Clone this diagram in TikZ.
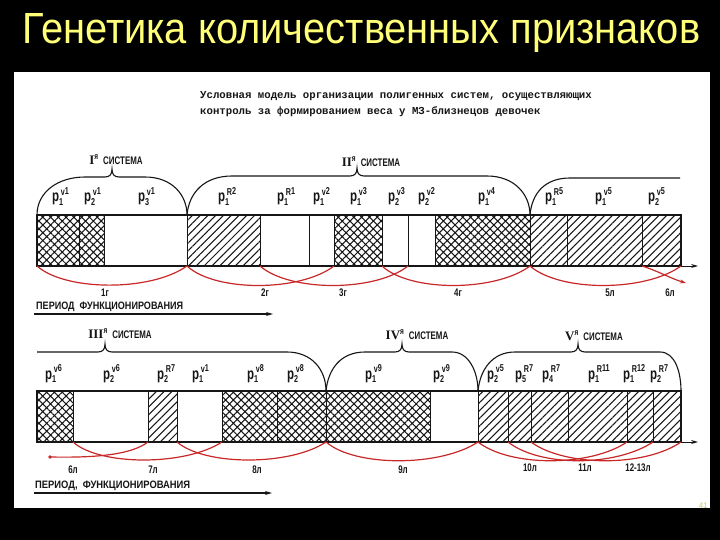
\documentclass[tikz,border=0pt]{standalone}
\usepackage{fontspec}
\setmainfont{Liberation Sans}
\newfontfamily\monof{Liberation Mono}
\newfontfamily\serf{Liberation Serif}
\newfontfamily\cond[FakeStretch=0.72]{Liberation Sans}
\usetikzlibrary{patterns.meta,arrows.meta}
\definecolor{ink}{RGB}{22,22,22}
\definecolor{redink}{RGB}{200,40,40}
\definecolor{ttl}{RGB}{255,255,120}
\newcommand\gn[3]{{\cond\bfseries\fontsize{16}{16}\selectfont p\makebox[0pt][l]{\raisebox{-3.5pt}{\fontsize{10}{10}\selectfont#1}}\raisebox{6.5pt}{\fontsize{10}{10}\selectfont\,#2\raisebox{1pt}{#3}}}}
\newcommand\sysl[1]{{\serf\bfseries\fontsize{13}{13}\selectfont #1}\raisebox{5pt}{\cond\bfseries\fontsize{9}{9}\selectfont я}\hspace{5pt}{\cond\bfseries\fontsize{11}{11}\selectfont СИСТЕМА}}
\tikzset{
 band/.style={draw=ink,line width=1.8pt},
 div/.style={draw=ink,line width=1pt},
 cross/.style={pattern={Hatch[angle=45,distance=5.5pt,line width=1.05pt]},pattern color=ink},
 diag/.style={pattern={Lines[angle=45,distance=5.5pt,line width=1.05pt]},pattern color=ink},
 blank/.style={},
 dome/.style={draw=ink,line width=1.1pt},
 rarc/.style={draw=redink,line width=1.2pt},
 gl/.style={anchor=base west,inner sep=0pt,text=ink},
 sysn/.style={inner sep=0pt,text=ink},
 yr/.style={inner sep=0pt,text=ink,font=\cond\bfseries\fontsize{11}{11}\selectfont},
 hdr/.style={anchor=base west,inner sep=0pt,text=ink,font=\monof\bfseries\fontsize{10.7}{10.7}\selectfont},
}
\begin{document}
\begin{tikzpicture}[x=1pt,y=-1pt]
\fill[black] (0,0) rectangle (720,540);
\useasboundingbox (0,0) rectangle (720,540);
\node[anchor=base west,inner sep=0pt,text=ttl] (title) at (22,44)
  {\resizebox{678pt}{30pt}{\fontsize{42}{42}\selectfont Генетика количественных признаков}};
\fill[white] (14,72) rectangle (710,508);
\node[anchor=base east,inner sep=0pt,text=ttl!80!black,font=\fontsize{8}{8}\selectfont] (pg) at (708,508) {41};
% header
\node[hdr] (h1) at (200,99) {Условная модель организации полигенных систем, осуществляющих};
\node[hdr] (h2) at (200,115) {контроль за формированием веса у МЗ-близнецов девочек};
% ---------- top row ----------
\foreach \a/\b/\s in {37/79/cross,79/104/cross,104/187/blank,187/260/diag,260/309/blank,309/334/blank,334/382/cross,382/408/blank,408/435/blank,435/530/cross,530/567/diag,567/642/diag,642/681/diag}
  \path[\s] (\a,215) rectangle (\b,266);
\foreach \x in {79,104,187,260,309,334,382,408,435,530,567,642}
  \draw[div] (\x,215) -- (\x,266);
\draw[band] (37,215) rectangle (681,266);
\foreach \n/\x in {0/37,1/79,2/104,3/187,4/260,5/309,6/334,7/382,8/408,9/435,10/530,11/567,12/642,13/681}
  \coordinate (T\n) at (\x,266);
\coordinate (Tend) at (698,266);
\draw[ink,line width=1pt,-{Stealth[length=7pt,width=4pt]}] (T13) -- (Tend);
% domes top
\draw[dome] (37,215) .. controls (37,192) and (58,177) .. (85,177) -- (105,177)
  .. controls (110,177) and (112,174) .. (112,169) .. controls (112,174) and (114,177) .. (119,177)
  -- (145,177) .. controls (172,177) and (187,195) .. (187,215);
\draw[dome] (187,215) .. controls (189,192) and (205,176) .. (232,176) -- (350,176)
  .. controls (355,176) and (357,173) .. (357,168) .. controls (357,173) and (359,176) .. (364,176)
  -- (487,176) .. controls (515,176) and (530,195) .. (530,215);
\draw[dome] (530,215) .. controls (532,193) and (545,178) .. (570,178) -- (680,178);
\node[sysn] (s1) at (116,160) {\sysl{I}};
\node[sysn] (s2) at (371,162) {\sysl{II}};
% gene labels top
\node[gl] (a1) at (52,202) {\gn{1}{v}{1}};
\node[gl] (a2) at (84,202) {\gn{2}{v}{1}};
\node[gl] (a3) at (138,202) {\gn{3}{v}{1}};
\node[gl] (a4) at (218,202) {\gn{1}{R}{2}};
\node[gl] (a5) at (277,202) {\gn{1}{R}{1}};
\node[gl] (a6) at (313,202) {\gn{1}{v}{2}};
\node[gl] (a7) at (350,202) {\gn{1}{v}{3}};
\node[gl] (a8) at (388,202) {\gn{2}{v}{3}};
\node[gl] (a9) at (418,202) {\gn{2}{v}{2}};
\node[gl] (a10) at (478,202) {\gn{1}{v}{4}};
\node[gl] (a11) at (545,202) {\gn{1}{R}{5}};
\node[gl] (a12) at (595,202) {\gn{1}{v}{5}};
\node[gl] (a13) at (648,202) {\gn{2}{v}{5}};
% red arcs top
\draw[rarc] (T0) .. controls (65,291) and (150,292) .. (T3);
\draw[rarc] (T3) .. controls (215,292) and (300,292) .. (T6);
\draw[rarc] (T4) .. controls (290,292) and (375,292) .. (T8);
\draw[rarc] (T7) .. controls (410,292) and (495,292) .. (T10);
\draw[rarc] (T10) .. controls (560,292) and (645,292) .. (T13);
\coordinate (T14) at (686,283);
\draw[rarc,-{Stealth[length=6pt,width=4pt]}] (T12) .. controls (658,271) and (672,279) .. (T14);
\node[yr] (y1) at (105,293) {1г};
\node[yr] (y2) at (265,293) {2г};
\node[yr] (y3) at (343,293) {3г};
\node[yr] (y4) at (458,293) {4г};
\node[yr] (y5) at (610,293) {5л};
\node[yr] (y6) at (670,293) {6л};
% period 1
\node[anchor=base west,inner sep=0pt,text=ink] (p1) at (36,309)
  {\resizebox{147pt}{7.5pt}{\bfseries\fontsize{10}{10}\selectfont ПЕРИОД\ \ ФУНКЦИОНИРОВАНИЯ}};
\coordinate (pa1) at (34,314);
\coordinate (pb1) at (273,314);
\draw[ink,line width=1.2pt,-{Stealth[length=7pt,width=4pt]}] (pa1) -- (pb1);
% ---------- bottom row ----------
\foreach \a/\b/\s in {37/73/cross,73/148/blank,148/177/diag,177/222/blank,222/277/cross,277/326/cross,326/430/cross,430/478/blank,478/508/diag,508/531/diag,531/568/diag,568/627/diag,627/653/diag,653/681/diag}
  \path[\s] (\a,391) rectangle (\b,442);
\foreach \x in {73,148,177,222,277,326,430,478,508,531,568,627,653}
  \draw[div] (\x,391) -- (\x,442);
\draw[band] (37,391) rectangle (681,442);
\foreach \n/\x in {0/37,1/73,2/148,3/177,4/222,5/277,6/326,7/430,8/478,9/508,10/531,11/568,12/627,13/653,14/681}
  \coordinate (B\n) at (\x,442);
\coordinate (Bend) at (698,442);
\draw[ink,line width=1pt,-{Stealth[length=7pt,width=4pt]}] (B14) -- (Bend);
% domes bottom
\draw[dome] (37,352) -- (98,352)
  .. controls (103,352) and (105,349) .. (105,344) .. controls (105,349) and (107,352) .. (112,352)
  -- (287,352) .. controls (312,352) and (326,370) .. (326,391);
\draw[dome] (326,391) .. controls (328,370) and (340,352) .. (365,352) -- (395,352)
  .. controls (400,352) and (402,349) .. (402,344) .. controls (402,349) and (404,352) .. (409,352)
  -- (452,352) .. controls (469,352) and (478,372) .. (478,391);
\draw[dome] (478,391) .. controls (480,370) and (492,352) .. (515,352) -- (571,352)
  .. controls (576,352) and (578,349) .. (578,344) .. controls (578,349) and (580,352) .. (585,352)
  -- (660,352) .. controls (675,352) and (681,372) .. (681,391);
\node[sysn] (s3) at (120,334) {\sysl{III}};
\node[sysn] (s4) at (417,335) {\sysl{IV}};
\node[sysn] (s5) at (594,336) {\sysl{V}};
% gene labels bottom
\node[gl] (b1) at (45,379) {\gn{1}{v}{6}};
\node[gl] (b2) at (103,379) {\gn{2}{v}{6}};
\node[gl] (b3) at (157,379) {\gn{2}{R}{7}};
\node[gl] (b4) at (192,379) {\gn{1}{v}{1}};
\node[gl] (b5) at (247,379) {\gn{1}{v}{8}};
\node[gl] (b6) at (287,379) {\gn{2}{v}{8}};
\node[gl] (b7) at (365,379) {\gn{1}{v}{9}};
\node[gl] (b8) at (433,379) {\gn{2}{v}{9}};
\node[gl] (b9) at (487,379) {\gn{2}{v}{5}};
\node[gl] (b10) at (515,379) {\gn{5}{R}{7}};
\node[gl] (b11) at (542,379) {\gn{4}{R}{7}};
\node[gl] (b12) at (588,379) {\gn{1}{R}{11}};
\node[gl] (b13) at (623,379) {\gn{1}{R}{12}};
\node[gl] (b14) at (650,379) {\gn{2}{R}{7}};
% red arcs bottom
\coordinate (Bs) at (50,457);
\fill[redink] (Bs) circle (1.8);
\draw[rarc] (Bs) .. controls (100,458) and (132,454) .. (B2);
\draw[rarc] (B1) .. controls (100,466) and (185,466) .. (B4);
\draw[rarc] (B3) .. controls (205,466) and (290,466) .. (B6);
\draw[rarc] (B6) .. controls (355,467) and (440,467) .. (B8);
\draw[rarc] (B8) .. controls (510,467) and (590,467) .. (B12);
\draw[rarc] (B9) .. controls (540,467) and (615,467) .. (B13);
\draw[rarc] (B10) .. controls (565,467) and (645,467) .. (B14);
\node[yr] (z1) at (73,470) {6л};
\node[yr] (z2) at (153,470) {7л};
\node[yr] (z3) at (257,470) {8л};
\node[yr] (z4) at (403,470) {9л};
\node[yr] (z5) at (530,468) {10л};
\node[yr] (z6) at (585,468) {11л};
\node[yr] (z7) at (638,468) {12-13л};
% period 2
\node[anchor=base west,inner sep=0pt,text=ink] (p2) at (35,488)
  {\resizebox{155pt}{7.5pt}{\bfseries\fontsize{10}{10}\selectfont ПЕРИОД,\ \ ФУНКЦИОНИРОВАНИЯ}};
\coordinate (pa2) at (34,493);
\coordinate (pb2) at (272,493);
\draw[ink,line width=1.2pt,-{Stealth[length=7pt,width=4pt]}] (pa2) -- (pb2);
\end{tikzpicture}
\end{document}
